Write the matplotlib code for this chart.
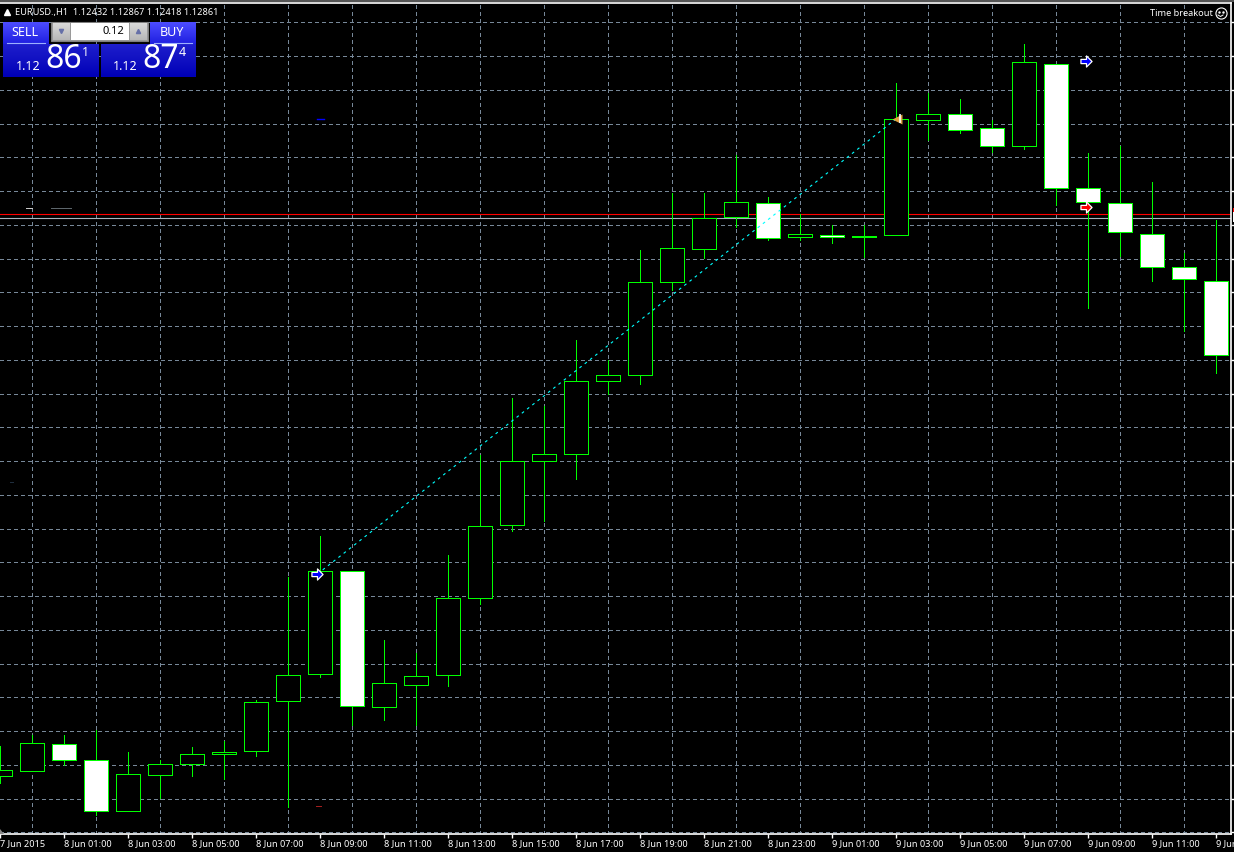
import matplotlib
matplotlib.use('Agg')
import matplotlib.pyplot as plt
from matplotlib.patches import Rectangle
from matplotlib.path import Path
import numpy as np

plt.rcParams['font.family'] = ['Noto Sans', 'DejaVu Sans']

W, H = 1234, 852

# chart levels (screen scale, no price axis is shown)
opens_top = [770, 743, 744, 760, 774, 764, 754, 751.5, 702, 675, 571, 571, 683, 676, 598, 526,
             461, 454, 381, 375, 282, 248, 218, 202, 203, 234, 234.5, 235.5, 119, 114, 114, 128,
             62, 64, 188, 203, 234, 267, 281]
bodies_bot = [776, 771, 760, 811, 811, 775, 764, 754, 751, 701, 674, 706, 707, 684.5, 675, 598,
              525, 461, 454, 381, 375, 282, 249, 217, 238, 237, 236.5, 236.5, 235, 120, 130, 146,
              146, 188, 202, 232, 267, 279, 355]
highs = [746, 735, 735, 730, 752, 760, 747, 741, 700, 577, 536, 571, 640, 653, 555, 455,
         398, 406, 340, 360, 250, 193, 193, 155, 197, 214, 225, 225, 83, 93, 99, 120,
         44, 64, 153, 146, 182, 253, 220]
lows = [783, 771, 765, 815, 811, 798, 776, 779, 756, 807, 677, 725, 720, 725, 686, 604,
        531, 521, 479, 394, 384, 290, 258, 227, 240, 240, 243, 257, 235, 140, 133, 152,
        149, 205, 308, 256, 281, 331, 373]
filled = [0, 0, 1, 1, 0, 0, 0, 0, 0, 0, 0, 1, 0, 0, 0, 0,
          0, 0, 0, 0, 0, 0, 0, 0, 1, 0, 1, 0, 0, 0, 1, 1,
          0, 1, 1, 1, 1, 1, 1]
hours = list(range(len(highs)))

tick_hours = [0, 2, 4, 6, 8, 10, 12, 14, 16, 18, 20, 22, 24, 26, 28, 30, 32, 34, 36, 38]
tick_labels = ['7 Jun 2015', '8 Jun 01:00', '8 Jun 03:00', '8 Jun 05:00', '8 Jun 07:00',
               '8 Jun 09:00', '8 Jun 11:00', '8 Jun 13:00', '8 Jun 15:00', '8 Jun 17:00',
               '8 Jun 19:00', '8 Jun 21:00', '8 Jun 23:00', '9 Jun 01:00', '9 Jun 03:00',
               '9 Jun 05:00', '9 Jun 07:00', '9 Jun 09:00', '9 Jun 11:00', '9 Jun']
grid_levels = [22.4, 56.1, 89.9, 123.6, 157.4, 191.1, 224.9, 258.6, 292.4, 326.1, 359.9, 393.6,
               427.4, 461.1, 494.9, 528.6, 562.4, 596.1, 629.9, 663.6, 697.4, 731.1, 764.9,
               798.6, 832.4]

bid_level, ask_level = 213.5, 217.5
trend_x = [9.92, 28]
trend_y = [574, 119]

GREEN = '#00ff00'
GRID = '#778899'
DASH = (0, (4, 3))

fig = plt.figure(figsize=(W / 100, H / 100), dpi=100, facecolor='black')

# main chart, framed on top, right and bottom like MT4
ax = fig.add_axes([0, (H - 834) / H, 1231 / W, (834 - 3) / H], facecolor='black')
ax.set_xlim(0, 1231 / 32)
ax.set_ylim(834, 3)
ax.spines['left'].set_visible(False)
for s in ['top', 'right', 'bottom']:
    ax.spines[s].set_color('white')
    ax.spines[s].set_linewidth(1.2)
ax.set_xticks(tick_hours)
ax.set_xticklabels(tick_labels, ha='left', fontsize=6.6, color='white')
ax.set_xticks(hours, minor=True)
ax.set_yticks(grid_levels)
ax.set_yticklabels([])
ax.yaxis.tick_right()
ax.tick_params(axis='x', which='major', length=3, width=1, color='white', pad=0.5)
ax.tick_params(axis='x', which='minor', length=0)
ax.tick_params(axis='y', length=3, width=1, color='white')
ax.grid(True, which='major', axis='y', color=GRID, lw=0.72, ls=DASH, antialiased=False, zorder=1)
ax.grid(True, which='minor', axis='x', color=GRID, lw=0.72, ls=DASH, antialiased=False, zorder=1)
ax.set_axisbelow(True)

# price lines and the object line
ax.axhline(ask_level, color='#aab4be', lw=0.8, zorder=2)
ax.axhline(bid_level, color='#ff0000', lw=0.8, zorder=2)
ax.plot(trend_x, trend_y, color='#00ffff', lw=0.8, ls=(0, (2.5, 3.5)), zorder=5)

# candles
ax.vlines(hours, highs, lows, color=GREEN, lw=0.7, antialiased=False, zorder=3)
ax.bar(hours, np.array(bodies_bot) - np.array(opens_top), bottom=opens_top, width=0.75,
       color=['white' if f else 'black' for f in filled], edgecolor=GREEN, linewidth=0.7,
       antialiased=False, zorder=4)

# order arrows
arrow = Path([(-1, -0.38), (0, -0.38), (0, -1), (1, 0), (0, 1), (0, 0.38), (-1, 0.38), (-1, -0.38)], closed=True)
ax.plot([9.92], [574], marker=arrow, ms=8, mfc='#0000ff', mec='white', mew=0.9, zorder=6)
ax.plot([33.94], [61], marker=arrow, ms=8, mfc='#0000ff', mec='white', mew=0.9, zorder=6)
ax.plot([33.94], [206.5], marker=arrow, ms=8, mfc='#ff0000', mec='white', mew=0.9, zorder=6)
ax.plot([28.03], [118.5], marker='<', ms=7, mfc='#e0a040', mec='none', zorder=6)
ax.vlines([28.13], [114], [123], color='white', lw=1.2, zorder=7)

# overlay in screen pixels for the trade panel and labels
top = fig.add_axes([0, 0, 1, 1], facecolor='none')
top.set_xlim(0, W)
top.set_ylim(H, 0)
top.axis('off')


def gradient(x0, y0, x1, y1, c0, c1):
    g = np.linspace(0, 1, 32)[:, None, None]
    img = (1 - g) * np.array(c0)[None, None, :] + g * np.array(c1)[None, None, :]
    top.imshow(img, extent=(x0, x1, y1, y0), aspect='auto', zorder=2, interpolation='bilinear')


top.add_patch(Rectangle((0, 0), W, 2, color='#555555', lw=0, zorder=1))
gradient(3, 22, 49, 44, (0.30, 0.30, 1.0), (0.12, 0.12, 0.88))
gradient(150, 22, 196, 44, (0.30, 0.30, 1.0), (0.12, 0.12, 0.88))
gradient(3, 44, 99, 77, (0.12, 0.12, 0.80), (0.0, 0.0, 0.72))
gradient(101, 44, 196, 77, (0.12, 0.12, 0.80), (0.0, 0.0, 0.72))
top.plot([7, 45], [43, 43], color='#9db0ff', lw=0.8, zorder=3)
top.plot([154, 192], [43, 43], color='#9db0ff', lw=0.8, zorder=3)
top.add_patch(Rectangle((51, 22), 97, 19, fc='#9a9a9a', ec='#808080', lw=0.8, zorder=2))
top.add_patch(Rectangle((71, 23), 58, 17, fc='white', lw=0, zorder=3))
gradient(53, 23, 70, 40, (0.85, 0.85, 0.85), (0.72, 0.72, 0.72))
gradient(130, 23, 147, 40, (0.85, 0.85, 0.85), (0.72, 0.72, 0.72))
top.plot([60.5], [30.5], marker='v', ms=3, color='#6670a8', zorder=4)
top.plot([137.5], [30.5], marker='^', ms=3, color='#6670a8', zorder=4)
top.plot([6.5], [12], marker='^', ms=5, color='white', zorder=4)

top.text(15, 12, 'EURUSD.,H1  1.12432 1.12867 1.12418 1.12861', color='white', fontsize=6.6,
         va='center', ha='left', zorder=5)
top.text(25, 32, 'SELL', color='white', fontsize=9, va='center', ha='center', zorder=5)
top.text(172, 32, 'BUY', color='white', fontsize=9, va='center', ha='center', zorder=5)
top.text(124, 31.5, '0.12', color='black', fontsize=8, va='center', ha='right', zorder=5)
top.text(41, 67, '1.12', color='white', fontsize=9, weight='bold', va='center', ha='right', zorder=5)
top.text(138, 67, '1.12', color='white', fontsize=9, weight='bold', va='center', ha='right', zorder=5)
top.text(45, 60, '86', color='white', fontsize=23, va='center', ha='left', zorder=5)
top.text(142, 60, '87', color='white', fontsize=23, va='center', ha='left', zorder=5)
top.text(85.5, 52, '1', color='white', fontsize=9, weight='bold', va='center', ha='center', zorder=5)
top.text(182.5, 52, '4', color='white', fontsize=9, weight='bold', va='center', ha='center', zorder=5)
top.text(1213, 13, 'Time breakout', color='white', fontsize=6.6, va='center', ha='right', zorder=5)
top.plot([1220.5], [13], marker='o', ms=8, mfc='none', mec='white', mew=0.8, zorder=5)
top.plot([1218.5, 1222.5], [11.5, 11.5], ls='none', marker='.', ms=1.5, color='white', zorder=5)
top.plot([1218, 1220.5, 1223], [15, 16.5, 15], color='white', lw=0.7, zorder=5)

# small leftovers of other chart objects
top.plot([317, 324], [118.5, 118.5], color='#0000ff', lw=1, zorder=5)
top.plot([316, 321], [805.5, 805.5], color='#aa2020', lw=0.7, zorder=5)
top.plot([26, 32], [207.5, 207.5], color='#d0d0d0', lw=0.7, zorder=5)
top.plot([51, 71], [207.5, 207.5], color='#606a70', lw=0.7, zorder=5)
top.plot([10, 13], [481.5, 481.5], color='#203040', lw=0.7, zorder=5)
top.fill([0, 4, 0], [829, 834, 834], color='#888888', lw=0, zorder=5)

# price tag stub at the right edge
top.add_patch(Rectangle((1233, 212), 1, 10, color='white', lw=0, zorder=5))
top.add_patch(Rectangle((1233, 208), 1, 4, color='#ff0000', lw=0, zorder=5))

fig.savefig('out.png', dpi=100, facecolor='black')
